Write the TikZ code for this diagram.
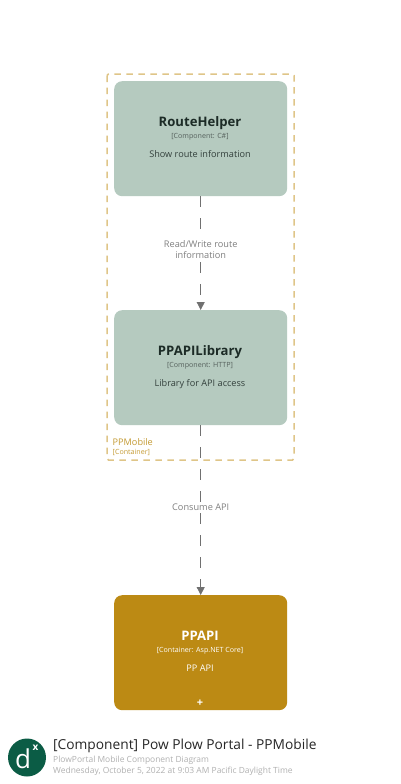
\documentclass[tikz,border=0pt]{standalone}
\usepackage{fontspec}
\setmainfont{Open Sans}
\usetikzlibrary{arrows.meta}
\definecolor{sage}{HTML}{B5CABF}
\definecolor{gold}{HTML}{BC8A14}
\definecolor{contline}{HTML}{DFC588}
\definecolor{contlabel}{HTML}{C49A32}
\definecolor{conn}{HTML}{707070}
\definecolor{connlabel}{HTML}{808080}
\definecolor{logo}{HTML}{0B5C45}
\definecolor{ink}{HTML}{1C2B26}
\definecolor{sub}{HTML}{9E9E9E}
\tikzset{
  x=1pt,y=-1pt,
  card/.style={rounded corners=8pt,minimum width=173pt,minimum height=115pt,inner sep=0pt,anchor=north west},
  compcard/.style={card,fill=sage},
  contcard/.style={card,fill=gold},
  cardtext/.style={inner sep=0pt,align=center,anchor=base},
  lefttext/.style={inner sep=0pt,anchor=base west},
  flow/.style={draw=conn,line width=0.75pt,dash pattern=on 11pt off 11pt,-{Triangle[length=8pt,width=8pt,fill=conn]}},
  flowlabel/.style={fill=white,inner sep=1pt,align=center,text=connlabel,font=\fontsize{9.2}{11}\selectfont},
  titlefont/.style={font=\fontsize{13.1}{15}\selectfont\bfseries},
  techfont/.style={font=\fontsize{7.1}{8}\selectfont},
  descfont/.style={font=\fontsize{9.15}{11}\selectfont},
}
\begin{document}
\begin{tikzpicture}
\useasboundingbox (0,0) rectangle (400,784);
\fill[white] (0,0) rectangle (400,784);
\draw[contline,line width=1.5pt,dash pattern=on 6.5pt off 5.5pt,rounded corners=1.5pt] (107,74) rectangle (294,460);
\node[compcard] (rh) at (114,81) {};
\node[compcard] (lib) at (114,310) {};
\node[contcard] (api) at (114,595) {};
\draw[flow] (rh.south) -- (lib.north) node[flowlabel,pos=0.47] (l1) {Read/Write route\\information};
\draw[flow] (lib.south) -- (api.north) node[flowlabel,pos=0.48] (l2) {Consume API};
\node[cardtext,text=ink,titlefont] (t1) at (200,126.5) {RouteHelper};
\node[cardtext,text=ink!75,techfont] (s1) at (200,138.5) {[Component: C\#]};
\node[cardtext,text=ink!90,descfont] (d1) at (200,157.5) {Show route information};
\node[cardtext,text=ink,titlefont] (t2) at (200,355) {PPAPILibrary};
\node[cardtext,text=ink!75,techfont] (s2) at (200,367) {[Component: HTTP]};
\node[cardtext,text=ink!90,descfont] (d2) at (200,386) {Library for API access};
\node[cardtext,text=white,titlefont] (t3) at (200,640) {PPAPI};
\node[cardtext,text=white,techfont] (s3) at (200,652) {[Container: Asp.NET Core]};
\node[cardtext,text=white,descfont] (d3) at (200,671) {PP API};
\node[cardtext,text=white,font=\fontsize{11}{11}\selectfont\bfseries] (plus) at (200,706) {+};
\node[lefttext,text=contlabel,descfont] (c1) at (112.5,445) {PPMobile};
\node[lefttext,text=contlabel,techfont] (c2) at (112.5,454.5) {[Container]};
\node[circle,fill=logo,minimum size=38pt,inner sep=0pt] (logoc) at (27,757.5) {};
\node[cardtext,text=white,font=\fontsize{26}{26}\selectfont] (logod) at (23,768) {d};
\node[cardtext,text=white,font=\fontsize{10}{10}\selectfont\bfseries] (logox) at (35.5,750) {x};
\node[lefttext,text=black!85,font=\fontsize{13.75}{15}\selectfont] (title) at (53,749.5) {[Component] Pow Plow Portal - PPMobile};
\node[lefttext,text=sub!80,font=\fontsize{8.45}{10}\selectfont] (st1) at (53,762.5) {PlowPortal Mobile Component Diagram};
\node[lefttext,text=sub!80,font=\fontsize{8.45}{10}\selectfont] (st2) at (53,773.5) {Wednesday, October 5, 2022 at 9:03 AM Pacific Daylight Time};
\end{tikzpicture}
\end{document}
